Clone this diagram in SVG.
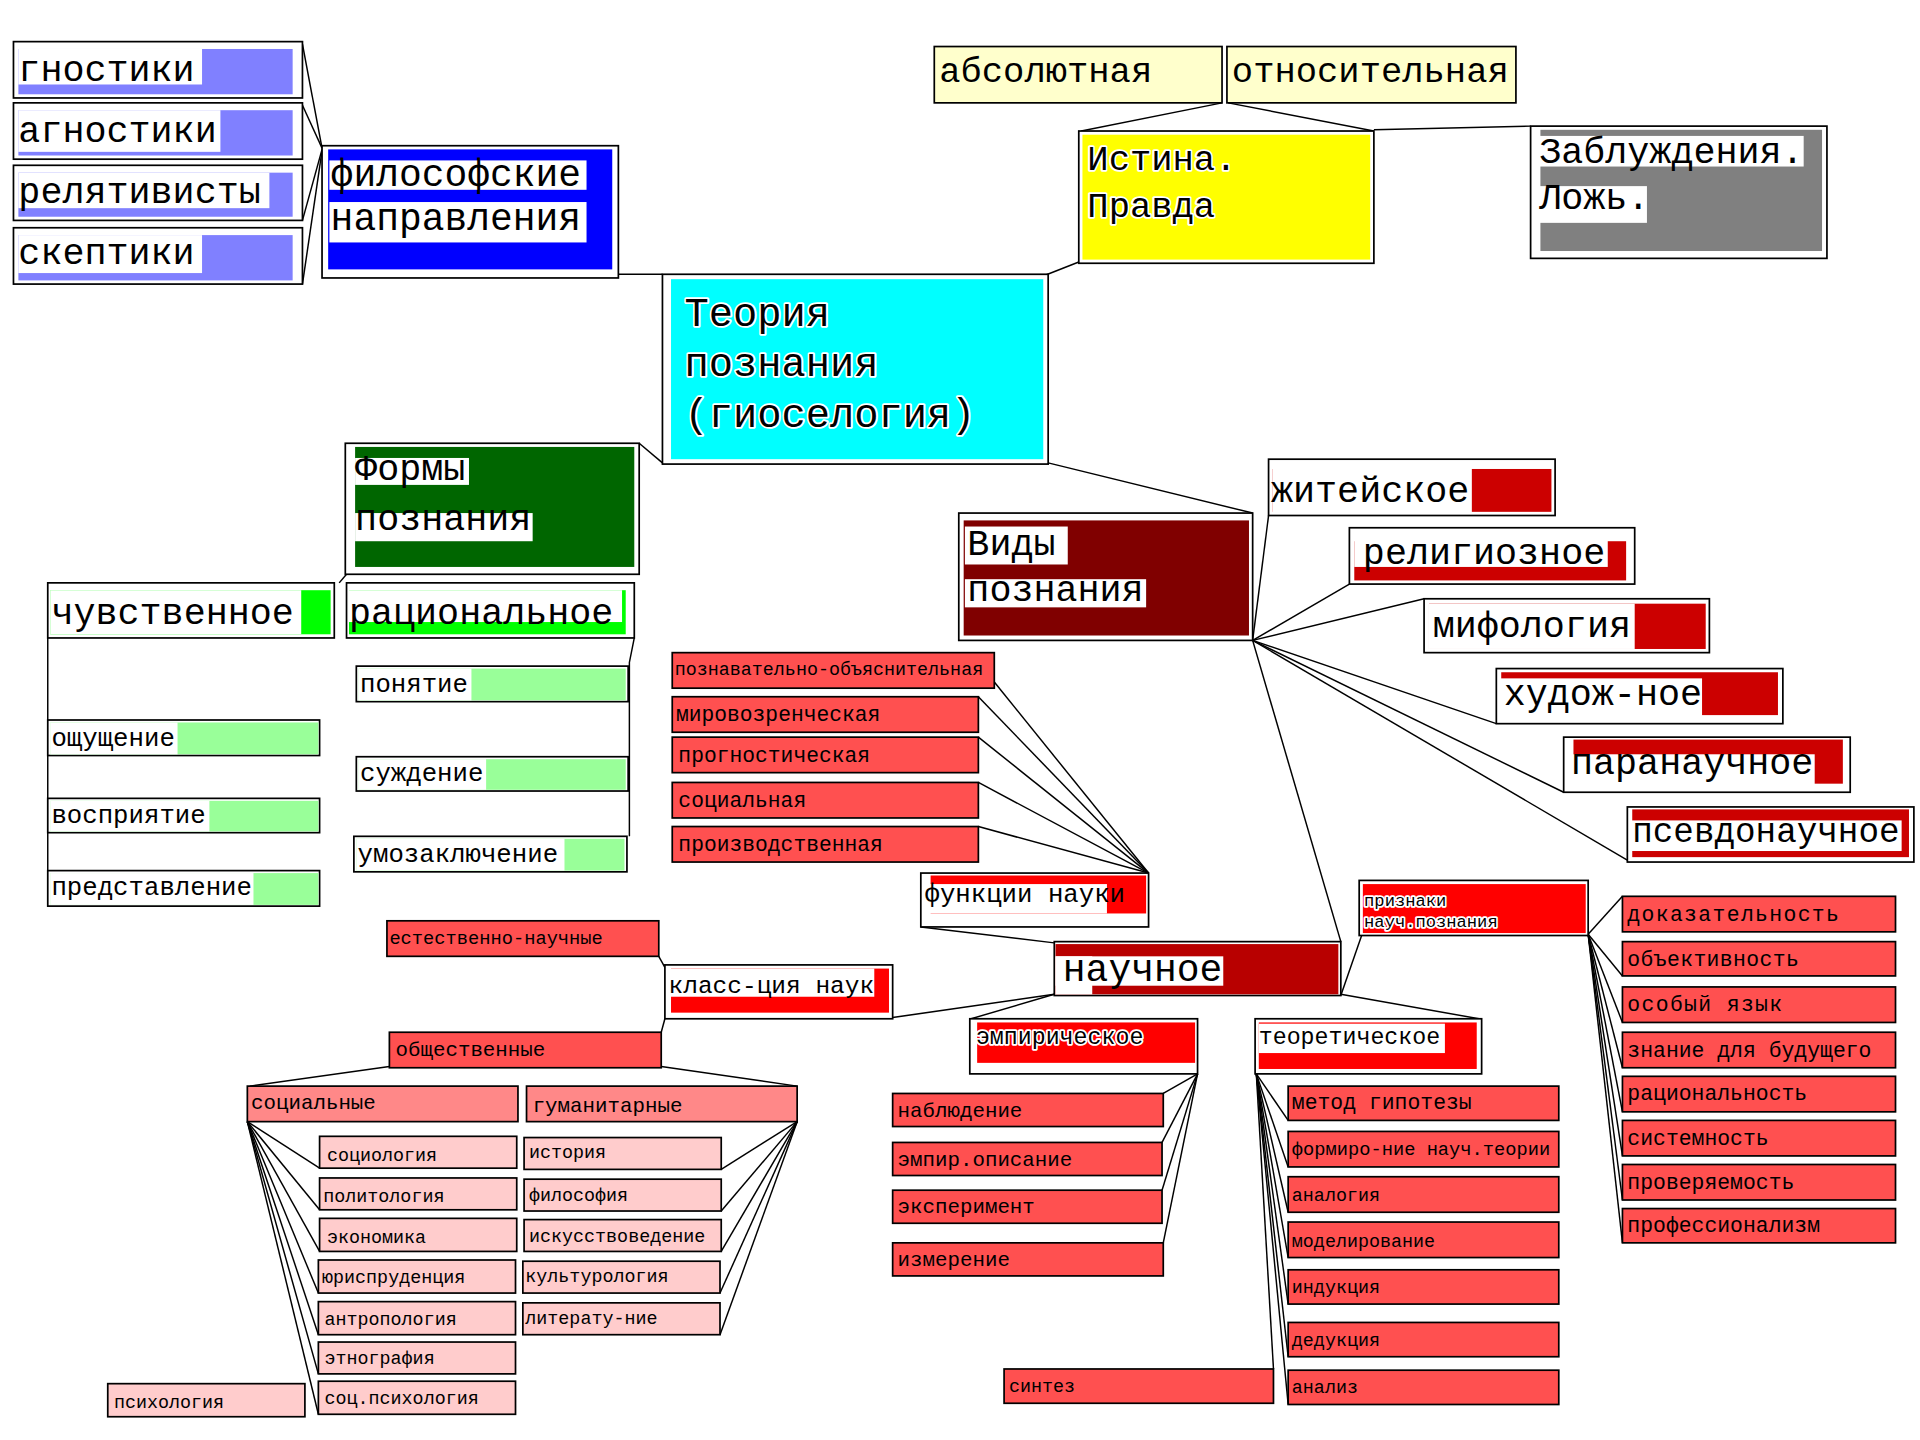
<svg xmlns="http://www.w3.org/2000/svg" width="1920" height="1440" viewBox="0 0 1920 1440">
<style>
text{font-family:"Liberation Mono","DejaVu Sans Mono",monospace;fill:#000}
.b{fill:#fff;stroke:#000;stroke-width:1.4}
.r{fill:#ff5050;stroke:#000;stroke-width:1.4}
.s{fill:#ff8888;stroke:#000;stroke-width:1.4}
.p{fill:#ffcccc;stroke:#000;stroke-width:1.4}
.lg{fill:#99ff99}
.w{fill:#fff}
.h{stroke:#fff;stroke-width:3px;paint-order:stroke;stroke-linejoin:round}
#connectors line,#connectors polyline{stroke:#000;stroke-width:1.2;fill:none}
</style>
<rect width="1920" height="1440" fill="#fff"/>
<g transform="scale(1.22449)">
<g id="connectors">
<line x1="247" y1="36" x2="263" y2="121"/>
<line x1="247" y1="86" x2="263" y2="121"/>
<line x1="247" y1="180" x2="263" y2="122"/>
<line x1="247" y1="232" x2="263" y2="123"/>
<line x1="505" y1="224" x2="541" y2="224"/>
<line x1="853" y1="225" x2="881" y2="214"/>
<line x1="998" y1="84" x2="883" y2="107"/>
<line x1="1003" y1="84" x2="1122" y2="107"/>
<line x1="1122" y1="106" x2="1250" y2="103"/>
<line x1="541" y1="378" x2="522" y2="362"/>
<line x1="856" y1="378" x2="1023" y2="419"/>
<line x1="283" y1="469" x2="277" y2="476"/>
<line x1="39" y1="521" x2="39" y2="711"/>
<polyline points="518,521 514,541 514,683"/>
<line x1="1023" y1="523" x2="1036" y2="421"/>
<line x1="1023" y1="523" x2="1102" y2="477"/>
<line x1="1023" y1="523" x2="1163" y2="489"/>
<line x1="1023" y1="523" x2="1222" y2="591"/>
<line x1="1023" y1="523" x2="1277" y2="647"/>
<line x1="1023" y1="523" x2="1330" y2="703"/>
<line x1="1023" y1="523" x2="1095" y2="769"/>
<line x1="938" y1="713" x2="812" y2="557"/>
<line x1="938" y1="713" x2="799" y2="569"/>
<line x1="938" y1="713" x2="799" y2="602"/>
<line x1="938" y1="713" x2="799" y2="639"/>
<line x1="938" y1="713" x2="799" y2="675"/>
<line x1="752" y1="757" x2="861" y2="770"/>
<line x1="729" y1="831" x2="861" y2="812"/>
<line x1="861" y1="812" x2="793" y2="832"/>
<line x1="1095" y1="812" x2="1208" y2="832"/>
<line x1="1095" y1="813" x2="1112" y2="764"/>
<line x1="1297" y1="763" x2="1325" y2="732"/>
<line x1="1297" y1="763" x2="1325" y2="797"/>
<line x1="1297" y1="763" x2="1325" y2="835"/>
<line x1="1297" y1="763" x2="1325" y2="872"/>
<line x1="1297" y1="763" x2="1325" y2="908"/>
<line x1="1297" y1="763" x2="1325" y2="944"/>
<line x1="1297" y1="763" x2="1325" y2="980"/>
<line x1="1297" y1="763" x2="1325" y2="1015"/>
<line x1="978" y1="877" x2="950" y2="893"/>
<line x1="978" y1="877" x2="949" y2="933"/>
<line x1="978" y1="877" x2="949" y2="972"/>
<line x1="978" y1="877" x2="950" y2="1015"/>
<line x1="1026" y1="877" x2="1052" y2="915"/>
<line x1="1026" y1="877" x2="1052" y2="953"/>
<line x1="1026" y1="877" x2="1052" y2="990"/>
<line x1="1026" y1="877" x2="1052" y2="1027"/>
<line x1="1026" y1="877" x2="1052" y2="1065"/>
<line x1="1026" y1="877" x2="1052" y2="1108"/>
<line x1="1026" y1="877" x2="1052" y2="1147"/>
<line x1="1026" y1="877" x2="1040" y2="1118"/>
<line x1="538" y1="781" x2="543" y2="790"/>
<line x1="543" y1="832" x2="540" y2="843"/>
<line x1="318" y1="871" x2="204" y2="887"/>
<line x1="540" y1="871" x2="651" y2="887"/>
<line x1="202" y1="916" x2="261" y2="954"/>
<line x1="202" y1="916" x2="261" y2="988"/>
<line x1="202" y1="916" x2="261" y2="1022"/>
<line x1="202" y1="916" x2="260" y2="1056"/>
<line x1="202" y1="916" x2="260" y2="1090"/>
<line x1="202" y1="916" x2="260" y2="1122"/>
<line x1="202" y1="916" x2="260" y2="1155"/>
<line x1="651" y1="916" x2="589" y2="955"/>
<line x1="651" y1="916" x2="589" y2="989"/>
<line x1="651" y1="916" x2="589" y2="1022"/>
<line x1="651" y1="916" x2="588" y2="1056"/>
<line x1="651" y1="916" x2="588" y2="1090"/>
</g>

<g id="gnostiki"><rect class="b" x="11" y="34" width="236" height="46"/><rect fill="#8080ff" x="15" y="40" width="224" height="37"/><rect class="w" x="15" y="40" width="150" height="29"/><text x="15" y="66" font-size="30">гностики</text></g>
<g id="agnostiki"><rect class="b" x="11" y="84" width="236" height="46"/><rect fill="#8080ff" x="15" y="90" width="224" height="37"/><rect class="w" x="15" y="90" width="165" height="34"/><text x="15" y="116" font-size="30">агностики</text></g>
<g id="relativisty"><rect class="b" x="11" y="135" width="236" height="45"/><rect fill="#8080ff" x="15" y="141" width="224" height="36"/><rect class="w" x="15" y="141" width="205" height="29"/><text x="15" y="166" font-size="30">релятивисты</text></g>
<g id="skeptiki"><rect class="b" x="11" y="186" width="236" height="46"/><rect fill="#8080ff" x="15" y="192" width="224" height="37"/><rect class="w" x="15" y="192" width="150" height="31"/><text x="15" y="216" font-size="30">скептики</text></g>

<g id="filosofskie"><rect class="b" x="263" y="119" width="242" height="108"/><rect fill="#0000ff" x="268" y="122" width="232" height="98"/><rect class="w" x="269" y="131" width="210" height="24"/><rect class="w" x="269" y="165" width="210" height="33"/><text x="270" y="152" font-size="31">философские</text><text x="270" y="188" font-size="31">направления</text></g>

<g id="teoriya"><rect class="b" x="541" y="224" width="315" height="155"/><rect fill="#00ffff" x="548" y="228" width="304" height="147"/><text class="h" x="559" y="266" font-size="33">Теория</text><text class="h" x="559" y="307" font-size="33">познания</text><text class="h" x="559" y="349" font-size="33">(гиоселогия)</text></g>

<g id="absolyutnaya"><rect class="b" x="763" y="38" width="235" height="46" style="fill:#ffffcc"/><text x="767" y="67" font-size="29">абсолютная</text></g>
<g id="otnositelnaya"><rect class="b" x="1002" y="38" width="236" height="46" style="fill:#ffffcc"/><text x="1006" y="67" font-size="29">относительная</text></g>

<g id="istina"><rect class="b" x="881" y="107" width="241" height="108"/><rect fill="#ffff00" x="884" y="110" width="235" height="102"/><text class="h" x="888" y="139" font-size="29">Истина.</text><text class="h" x="888" y="177" font-size="29">Правда</text></g>

<g id="zabluzhdeniya"><rect class="b" x="1250" y="103" width="242" height="108"/><rect fill="#808080" x="1258" y="106" width="230" height="99"/><rect class="w" x="1257" y="111" width="216" height="25"/><rect class="w" x="1257" y="152" width="88" height="30"/><text x="1257" y="133" font-size="30">Заблуждения.</text><text x="1257" y="171" font-size="30">Ложь.</text></g>

<g id="formy"><rect class="b" x="282" y="362" width="240" height="107"/><rect fill="#006600" x="290" y="365" width="228" height="98"/><rect class="w" x="290" y="374" width="93" height="22"/><rect class="w" x="290" y="419" width="145" height="23"/><text x="290" y="392" font-size="30">Формы</text><text x="290" y="433" font-size="30">познания</text></g>

<g id="chuvstvennoe"><rect class="b" x="39" y="476" width="234" height="45"/><rect fill="#00ff00" x="41" y="482" width="229" height="36"/><rect class="w" x="41" y="482" width="205" height="36"/><text x="42" y="510" font-size="30">чувственное</text></g>
<g id="racionalnoe"><rect class="b" x="283" y="476" width="235" height="45"/><rect fill="#00ff00" x="285" y="482" width="226" height="36"/><rect class="w" x="285" y="482" width="223" height="26"/><text x="285" y="510" font-size="30">рациональное</text></g>

<g id="oshchushchenie"><rect class="b" x="39" y="588" width="222" height="29"/><rect class="lg" x="41" y="590" width="219" height="26"/><rect class="w" x="41" y="590" width="104" height="26"/><text x="42" y="609" font-size="21">ощущение</text></g>
<g id="vospriyatie"><rect class="b" x="39" y="652" width="222" height="28"/><rect class="lg" x="41" y="654" width="219" height="25"/><rect class="w" x="41" y="654" width="130" height="25"/><text x="42" y="672" font-size="21">восприятие</text></g>
<g id="predstavlenie"><rect class="b" x="39" y="711" width="222" height="29"/><rect class="lg" x="41" y="713" width="219" height="26"/><rect class="w" x="41" y="713" width="166" height="26"/><text x="42" y="731" font-size="21">представление</text></g>
<g id="ponyatie"><rect class="b" x="291" y="544" width="222" height="29"/><rect class="lg" x="293" y="546" width="218" height="26"/><rect class="w" x="293" y="546" width="92" height="26"/><text x="294" y="565" font-size="21">понятие</text></g>
<g id="suzhdenie"><rect class="b" x="291" y="618" width="222" height="28"/><rect class="lg" x="293" y="620" width="218" height="25"/><rect class="w" x="293" y="620" width="104" height="25"/><text x="294" y="638" font-size="21">суждение</text></g>
<g id="umozaklyuchenie"><rect class="b" x="289" y="683" width="223" height="29"/><rect class="lg" x="291" y="685" width="219" height="26"/><rect class="w" x="291" y="685" width="170" height="26"/><text x="292" y="704" font-size="21">умозаключение</text></g>

<g id="vidy"><rect class="b" x="783" y="419" width="240" height="104"/><rect fill="#800000" x="787" y="425" width="233" height="94"/><rect class="w" x="788" y="430" width="84" height="31"/><rect class="w" x="788" y="473" width="148" height="23"/><text x="790" y="453" font-size="30">Виды</text><text x="790" y="491" font-size="30">познания</text></g>

<g id="zhiteyskoe"><rect class="b" x="1036" y="375" width="234" height="46"/><rect fill="#cc0000" x="1039" y="383" width="228" height="35"/><rect class="w" x="1039" y="381" width="163" height="38"/><text x="1038" y="410" font-size="30">житейское</text></g>
<g id="religioznoe"><rect class="b" x="1102" y="431" width="233" height="46"/><rect fill="#cc0000" x="1106" y="442" width="222" height="32"/><rect class="w" x="1106" y="436" width="207" height="27"/><text x="1113" y="461" font-size="30">религиозное</text></g>
<g id="mifologiya"><rect class="b" x="1163" y="489" width="233" height="44"/><rect fill="#cc0000" x="1167" y="493" width="226" height="37"/><rect class="w" x="1167" y="493" width="168" height="37"/><text x="1170" y="520" font-size="30">мифология</text></g>
<g id="hudozhnoe"><rect class="b" x="1222" y="546" width="234" height="45"/><rect fill="#cc0000" x="1226" y="549" width="226" height="35"/><rect class="w" x="1225" y="554" width="165" height="34"/><text x="1228" y="576" font-size="30">худож-ное</text></g>
<g id="paranauchnoe"><rect class="b" x="1277" y="602" width="234" height="45"/><rect fill="#cc0000" x="1285" y="604" width="220" height="36"/><rect class="w" x="1280" y="616" width="202" height="30"/><text x="1283" y="632" font-size="30">паранаучное</text></g>
<g id="psevdonauchnoe"><rect class="b" x="1329" y="659" width="234" height="45"/><rect fill="#cc0000" x="1333" y="661" width="226" height="39"/><rect class="w" x="1331" y="670" width="222" height="25"/><text x="1333" y="688" font-size="28">псевдонаучное</text></g>

<g id="funkcii"><rect class="b" x="752" y="713" width="186" height="44"/><rect fill="#ff0000" x="760" y="715" width="176" height="31"/><rect class="w" x="754" y="722" width="150" height="24"/><text x="755" y="737" font-size="21">функции науки</text></g>
<g id="f1"><rect class="r" x="549" y="533" width="263" height="29"/><text x="551" y="551" font-size="15">познавательно-объяснительная</text></g>
<g id="f2"><rect class="r" x="549" y="569" width="250" height="29"/><text x="552" y="589" font-size="17.4">мировозренческая</text></g>
<g id="f3"><rect class="r" x="549" y="602" width="250" height="29"/><text x="554" y="622" font-size="17.4">прогностическая</text></g>
<g id="f4"><rect class="r" x="549" y="639" width="250" height="29"/><text x="554" y="659" font-size="17.4">социальная</text></g>
<g id="f5"><rect class="r" x="549" y="675" width="250" height="29"/><text x="554" y="695" font-size="17.4">производственная</text></g>

<g id="nauchnoe"><rect class="b" x="861" y="769" width="234" height="44"/><rect fill="#b80000" x="862" y="771" width="231" height="41"/><rect class="w" x="862" y="781" width="137" height="24"/><rect class="w" x="862" y="781" width="30" height="31"/><text x="868" y="801" font-size="31">научное</text></g>

<g id="priznaki"><rect class="b" x="1110" y="719" width="187" height="45"/><rect fill="#ff0000" x="1113" y="722" width="182" height="40"/><text class="h" x="1114" y="740" font-size="14">признаки</text><text class="h" x="1114" y="757" font-size="14">науч.познания</text></g>
<g id="p1"><rect class="r" x="1325" y="732" width="223" height="29"/><text x="1329" y="752" font-size="17.5" letter-spacing="1.1">доказательность</text></g>
<g id="p2"><rect class="r" x="1325" y="769" width="223" height="28"/><text x="1329" y="789" font-size="17.5" letter-spacing="0.3">объективность</text></g>
<g id="p3"><rect class="r" x="1325" y="806" width="223" height="29"/><text x="1329" y="826" font-size="17.5" letter-spacing="1.1">особый язык</text></g>
<g id="p4"><rect class="r" x="1325" y="843" width="223" height="29"/><text x="1329" y="863" font-size="17.5">знание для будущего</text></g>
<g id="p5"><rect class="r" x="1325" y="879" width="223" height="29"/><text x="1329" y="898" font-size="17.5">рациональность</text></g>
<g id="p6"><rect class="r" x="1325" y="915" width="223" height="29"/><text x="1329" y="935" font-size="17.5">системность</text></g>
<g id="p7"><rect class="r" x="1325" y="951" width="223" height="29"/><text x="1329" y="971" font-size="17.5">проверяемость</text></g>
<g id="p8"><rect class="r" x="1325" y="987" width="223" height="28"/><text x="1329" y="1006" font-size="17.5">профессионализм</text></g>

<g id="empiricheskoe"><rect class="b" x="792" y="832" width="186" height="45"/><rect fill="#ff0000" x="798" y="835" width="178" height="33"/><text class="h" x="797" y="853" font-size="19">эмпирическое</text></g>
<g id="e1"><rect class="r" x="729" y="893" width="221" height="27"/><text x="733" y="912" font-size="17">наблюдение</text></g>
<g id="e2"><rect class="r" x="729" y="933" width="220" height="27"/><text x="733" y="952" font-size="17">эмпир.описание</text></g>
<g id="e3"><rect class="r" x="729" y="972" width="220" height="27"/><text x="733" y="991" font-size="17">эксперимент</text></g>
<g id="e4"><rect class="r" x="729" y="1015" width="221" height="27"/><text x="733" y="1034" font-size="17">измерение</text></g>

<g id="teoreticheskoe"><rect class="b" x="1025" y="832" width="185" height="45"/><rect fill="#ff0000" x="1028" y="835" width="178" height="38"/><rect class="w" x="1028" y="836" width="152" height="24"/><text x="1028" y="853" font-size="19">теоретическое</text></g>
<g id="t1"><rect class="r" x="1052" y="887" width="221" height="28"/><text x="1055" y="906" font-size="17.5">метод гипотезы</text></g>
<g id="t2"><rect class="r" x="1052" y="924" width="221" height="29"/><text x="1055" y="943" font-size="15.3">формиро-ние науч.теории</text></g>
<g id="t3"><rect class="r" x="1052" y="961" width="221" height="29"/><text x="1055" y="981" font-size="15">аналогия</text></g>
<g id="t4"><rect class="r" x="1052" y="998" width="221" height="29"/><text x="1055" y="1018" font-size="15">моделирование</text></g>
<g id="t5"><rect class="r" x="1052" y="1037" width="221" height="28"/><text x="1055" y="1056" font-size="15">индукция</text></g>
<g id="t6"><rect class="r" x="1052" y="1080" width="221" height="28"/><text x="1055" y="1099" font-size="15">дедукция</text></g>
<g id="t7"><rect class="r" x="1052" y="1119" width="221" height="28"/><text x="1055" y="1138" font-size="15">анализ</text></g>
<g id="t8"><rect class="r" x="820" y="1118" width="220" height="28"/><text x="824" y="1137" font-size="15">синтез</text></g>

<g id="klassifikaciya"><rect class="b" x="543" y="788" width="186" height="44"/><rect fill="#ff0000" x="548" y="791" width="178" height="36"/><rect class="w" x="546" y="791" width="168" height="23"/><text x="546" y="811" font-size="20">класс-ция наук</text></g>
<g id="estestvennye"><rect class="r" x="316" y="752" width="222" height="29"/><text x="318" y="771" font-size="15.3">естественно-научные</text></g>
<g id="obshchestvennye"><rect class="r" x="318" y="843" width="222" height="29"/><text x="323" y="862" font-size="17">общественные</text></g>
<g id="socialnye"><rect class="s" x="202" y="887" width="221" height="29"/><text x="205" y="906" font-size="17">социальные</text></g>
<g id="gumanitarnye"><rect class="s" x="430" y="887" width="221" height="29"/><text x="435" y="908" font-size="17">гуманитарные</text></g>

<g id="s1"><rect class="p" x="261" y="928" width="161" height="26"/><text x="267" y="948" font-size="15">социология</text></g>
<g id="s2"><rect class="p" x="261" y="962" width="161" height="26"/><text x="264" y="982" font-size="15">политология</text></g>
<g id="s3"><rect class="p" x="261" y="995" width="161" height="27"/><text x="267" y="1015" font-size="15">экономика</text></g>
<g id="s4"><rect class="p" x="260" y="1029" width="161" height="27"/><text x="263" y="1048" font-size="15">юриспруденция</text></g>
<g id="s5"><rect class="p" x="260" y="1063" width="161" height="27"/><text x="265" y="1082" font-size="15">антропология</text></g>
<g id="s6"><rect class="p" x="260" y="1096" width="161" height="26"/><text x="265" y="1114" font-size="15">этнография</text></g>
<g id="s7"><rect class="p" x="260" y="1128" width="161" height="27"/><text x="265" y="1147" font-size="15">соц.психология</text></g>
<g id="s8"><rect class="p" x="88" y="1130" width="161" height="27"/><text x="93" y="1150" font-size="15">психология</text></g>

<g id="h1"><rect class="p" x="428" y="929" width="161" height="26"/><text x="432" y="946" font-size="15">история</text></g>
<g id="h2"><rect class="p" x="428" y="963" width="161" height="26"/><text x="432" y="981" font-size="15">философия</text></g>
<g id="h3"><rect class="p" x="428" y="996" width="161" height="26"/><text x="432" y="1014" font-size="15">искусствоведение</text></g>
<g id="h4"><rect class="p" x="427" y="1030" width="161" height="26"/><text x="429" y="1047" font-size="15">культурология</text></g>
<g id="h5"><rect class="p" x="427" y="1064" width="161" height="26"/><text x="429" y="1081" font-size="15">литерату-ние</text></g>
</g>
</svg>
